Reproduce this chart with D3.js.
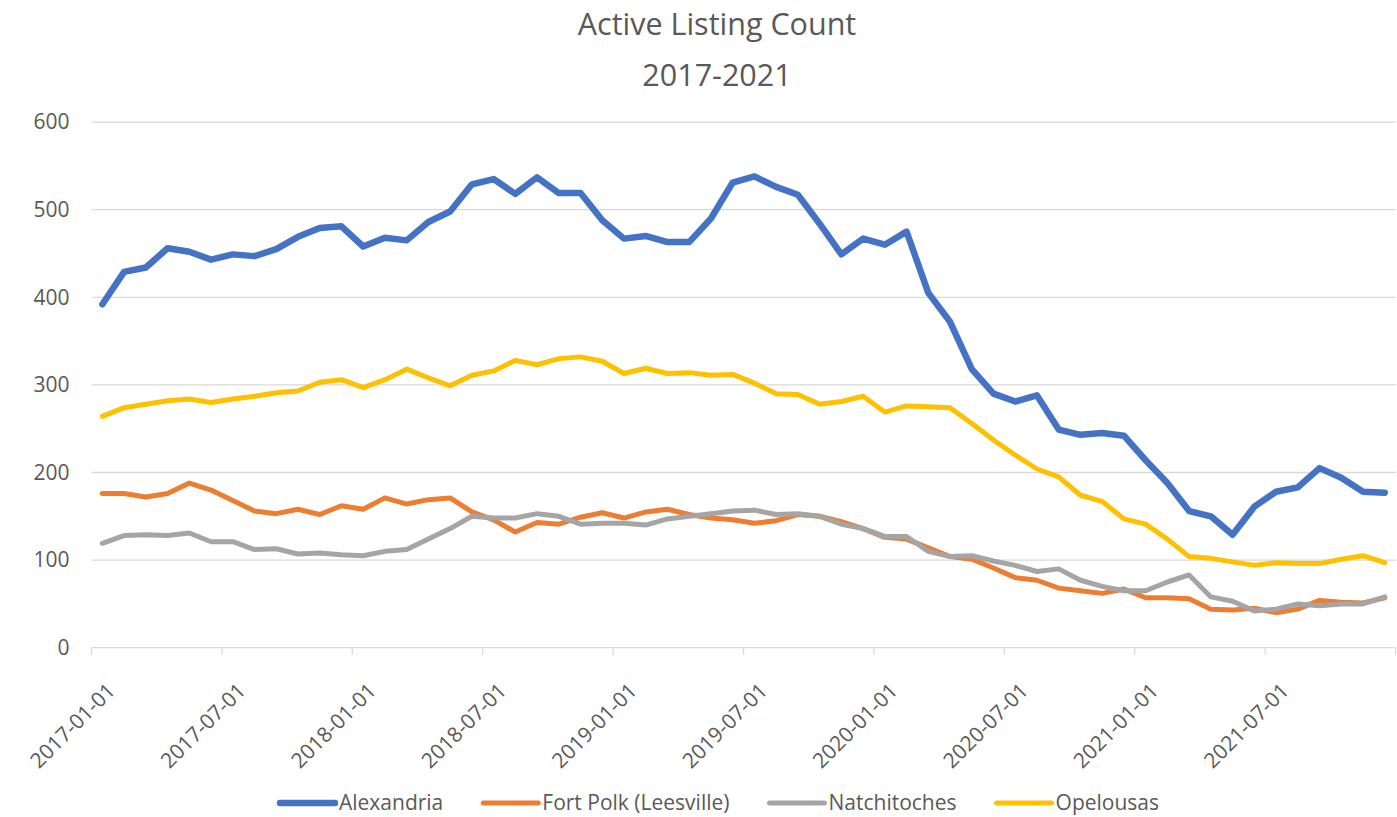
<!DOCTYPE html>
<html>
<head>
<meta charset="utf-8">
<script src="https://cdn.jsdelivr.net/npm/d3@7/dist/d3.min.js"></script>
<style>
  html, body { margin: 0; padding: 0; background: #fff; }
  svg { display: block; font-family: "Open Sans", "Noto Sans", sans-serif; }
</style>
</head>
<body>
<svg id="chart" width="1397" height="817"></svg>
<script>
// Monthly categories, January 2017 through December 2021
const months = [
  "2017-01-01","2017-02-01","2017-03-01","2017-04-01","2017-05-01","2017-06-01",
  "2017-07-01","2017-08-01","2017-09-01","2017-10-01","2017-11-01","2017-12-01",
  "2018-01-01","2018-02-01","2018-03-01","2018-04-01","2018-05-01","2018-06-01",
  "2018-07-01","2018-08-01","2018-09-01","2018-10-01","2018-11-01","2018-12-01",
  "2019-01-01","2019-02-01","2019-03-01","2019-04-01","2019-05-01","2019-06-01",
  "2019-07-01","2019-08-01","2019-09-01","2019-10-01","2019-11-01","2019-12-01",
  "2020-01-01","2020-02-01","2020-03-01","2020-04-01","2020-05-01","2020-06-01",
  "2020-07-01","2020-08-01","2020-09-01","2020-10-01","2020-11-01","2020-12-01",
  "2021-01-01","2021-02-01","2021-03-01","2021-04-01","2021-05-01","2021-06-01",
  "2021-07-01","2021-08-01","2021-09-01","2021-10-01","2021-11-01","2021-12-01"
];

// Category labels shown on the x axis (every sixth month)
const xTickLabels = [
  "2017-01-01","2017-07-01","2018-01-01","2018-07-01","2019-01-01",
  "2019-07-01","2020-01-01","2020-07-01","2021-01-01","2021-07-01"
];

const yTicks = [0, 100, 200, 300, 400, 500, 600];

const seriesNames = ["Alexandria", "Fort Polk (Leesville)", "Natchitoches", "Opelousas"];

const alexandria = [392,429,434,456,452,443,449,447,455,469,479,481,458,468,465,486,498,529,535,518,
                    537,519,519,488,467,470,463,463,490,531,538,526,517,484,449,467,460,475,405,372,
                    318,290,281,288,249,243,245,242,214,188,156,150,129,161,178,183,205,194,178,177];

const fortPolk   = [176,176,172,176,188,180,168,156,153,158,152,162,158,171,164,169,171,155,146,132,
                    143,141,149,154,148,155,158,152,148,146,142,145,152,150,144,136,126,124,114,104,
                    101,91,80,77,68,65,62,67,57,57,56,44,43,45,40,44,54,52,51,57];

const natchitoches = [119,128,129,128,131,121,121,112,113,107,108,106,105,110,112,124,136,150,148,148,
                      153,150,141,142,142,140,147,150,153,156,157,152,153,150,141,136,127,127,110,104,
                      105,99,94,87,90,77,70,65,65,75,83,58,53,42,44,50,48,50,50,58];

const opelousas  = [264,274,278,282,284,280,284,287,291,293,303,306,297,306,318,308,299,311,316,328,
                    323,330,332,327,313,319,313,314,311,312,302,290,289,278,281,287,269,276,275,274,
                    256,237,220,204,195,174,167,147,141,124,104,102,98,94,97,96,96,101,105,97];

const seriesValues = [alexandria, fortPolk, natchitoches, opelousas];
const seriesColors = ["#4472C4", "#ED7D31", "#A5A5A5", "#FFC000"];
const seriesWidths = [6.5, 5, 5, 5];

const textColor = "#595959";
const gridColor = "#D9D9D9";

const svg = d3.select("#chart");

const plot = { left: 91.5, right: 1395.6, top: 122.1, bottom: 647.7 };

const x = d3.scaleBand().domain(months).range([plot.left, plot.right]).padding(0);
const y = d3.scaleLinear().domain([0, 600]).range([plot.bottom, plot.top]);
const cx = m => x(m) + x.bandwidth() / 2;

// Title
const title = svg.append("text")
  .attr("x", 717).attr("text-anchor", "middle")
  .attr("fill", textColor).style("font-size", "30.5px");
title.append("tspan").attr("x", 717).attr("y", 35).text("Active Listing Count");
title.append("tspan").attr("x", 717).attr("y", 86).text("2017-2021");

// Horizontal gridlines
svg.append("g")
  .selectAll("line")
  .data(yTicks.filter(d => d > 0))
  .join("line")
  .attr("x1", plot.left).attr("x2", plot.right)
  .attr("y1", d => y(d)).attr("y2", d => y(d))
  .attr("stroke", gridColor).attr("stroke-width", 1.3);

// Value axis labels
const yAxis = svg.append("g")
  .attr("transform", `translate(${plot.left},0)`)
  .call(d3.axisLeft(y).tickValues(yTicks).tickSize(0).tickPadding(22));
yAxis.select(".domain").remove();
yAxis.selectAll("text")
  .attr("fill", textColor).style("font-size", "21px")
  .style("font-family", "'Open Sans', sans-serif");

// Category axis line and tick marks at category boundaries
const xAxisG = svg.append("g").attr("transform", `translate(0,${plot.bottom})`);
xAxisG.append("line")
  .attr("x1", plot.left).attr("x2", plot.right)
  .attr("y1", 0).attr("y2", 0)
  .attr("stroke", gridColor).attr("stroke-width", 1.3);

const boundaryTicks = months.filter((m, i) => i % 6 === 0).map(m => x(m)).concat([plot.right]);
xAxisG.selectAll("line.tick-mark")
  .data(boundaryTicks)
  .join("line")
  .attr("class", "tick-mark")
  .attr("x1", d => d).attr("x2", d => d)
  .attr("y1", 0).attr("y2", 7)
  .attr("stroke", gridColor).attr("stroke-width", 1.3);

// Rotated category labels, centred on their month
const xAxis = xAxisG.append("g")
  .call(d3.axisBottom(x).tickValues(xTickLabels).tickSize(0));
xAxis.select(".domain").remove();
xAxis.selectAll("text")
  .attr("x", 0).attr("y", 0).attr("dy", "0.35em")
  .attr("text-anchor", "end")
  .attr("transform", "translate(9,39) rotate(-45)")
  .attr("fill", textColor).style("font-size", "21px")
  .style("font-family", "'Open Sans', sans-serif");

// Series lines
const line = d3.line()
  .x((d, i) => cx(months[i]))
  .y(d => y(d));

svg.append("g")
  .selectAll("path")
  .data(seriesValues)
  .join("path")
  .attr("d", d => line(d))
  .attr("fill", "none")
  .attr("stroke", (d, i) => seriesColors[i])
  .attr("stroke-width", (d, i) => seriesWidths[i])
  .attr("stroke-linejoin", "round")
  .attr("stroke-linecap", "round");

// Legend, centred under the chart
const legend = svg.append("g");
const swatchLen = 55, swatchGap = 4, itemGap = 40, legendY = 803;
const items = legend.selectAll("g")
  .data(seriesNames)
  .join("g");
items.append("line")
  .attr("x1", 0).attr("x2", swatchLen)
  .attr("y1", 0).attr("y2", 0)
  .attr("stroke", (d, i) => seriesColors[i])
  .attr("stroke-width", (d, i) => seriesWidths[i])
  .attr("stroke-linecap", "round");
items.append("text")
  .attr("x", swatchLen + swatchGap).attr("y", 0).attr("dy", "0.35em")
  .attr("fill", textColor).style("font-size", "21px")
  .text(d => d);

const widths = [];
items.each(function () {
  widths.push(swatchLen + swatchGap + this.querySelector("text").getComputedTextLength());
});
const total = d3.sum(widths) + itemGap * (widths.length - 1);
let pos = 719.5 - total / 2;
items.attr("transform", (d, i) => {
  const t = `translate(${pos},${legendY})`;
  pos += widths[i] + itemGap;
  return t;
});
</script>
</body>
</html>
